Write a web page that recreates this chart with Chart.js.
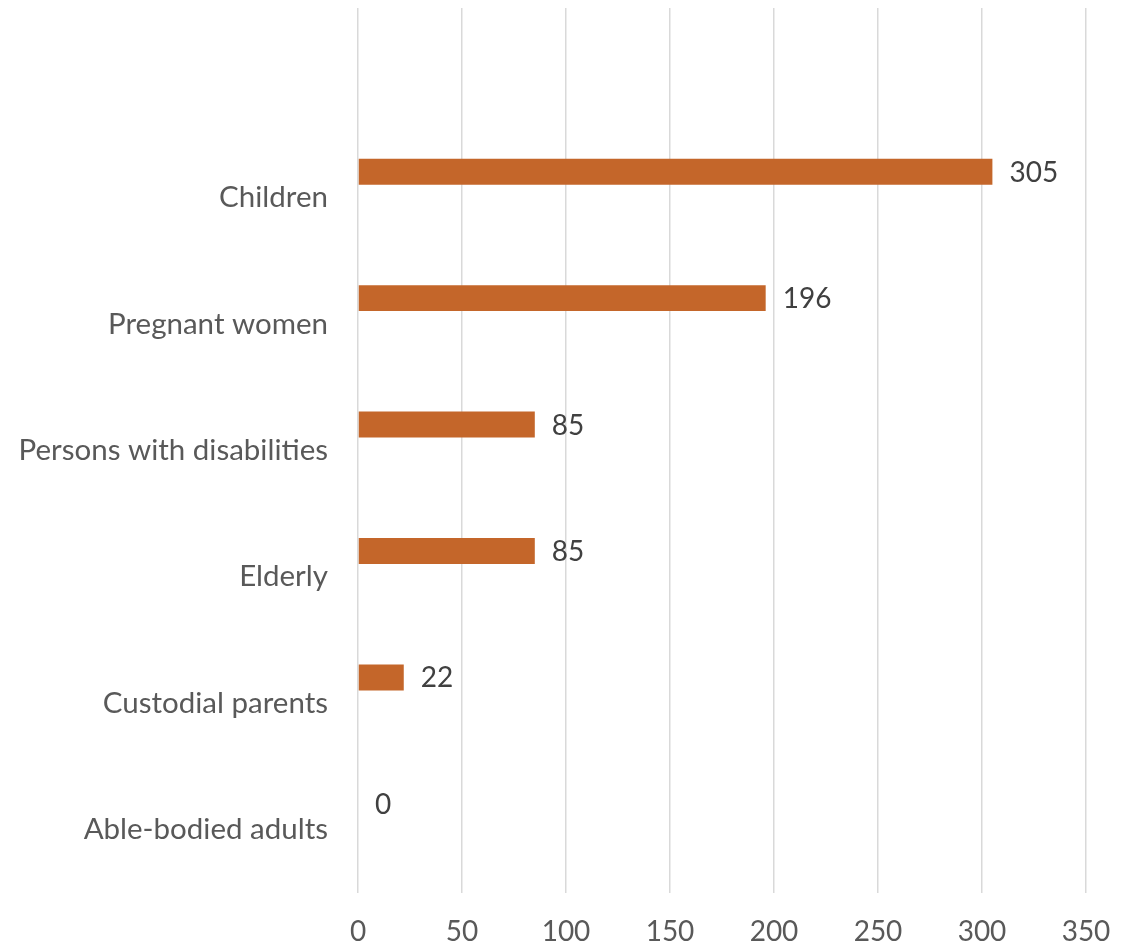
<!DOCTYPE html>
<html>
<head>
<meta charset="utf-8">
<script src="https://cdn.jsdelivr.net/npm/chart.js@4.4.1/dist/chart.umd.min.js"></script>
<style>
  html, body { margin: 0; padding: 0; background: #ffffff; }
  #wrap { width: 1125px; height: 951px; position: relative; }
</style>
</head>
<body>
<div id="wrap"><canvas id="c" width="1125" height="951"></canvas></div>
<script>
// Categories (the first, blank category is the empty band at the top of the reference)
const categories = ["", "Children", "Pregnant women", "Persons with disabilities", "Elderly", "Custodial parents", "Able-bodied adults"];
// Values for the drawn series
const seriesValues = [null, 305, 196, 85, 85, 22, 0];
// Second (empty) series that occupies the lower half of each band
const emptySeries = [null, null, null, null, null, null, null];
// X tick values
const xTicks = [0, 50, 100, 150, 200, 250, 300, 350];

const FONT = "Lato, 'Open Sans', sans-serif";

const noLigatures = {
  id: 'noLigatures',
  beforeInit(chart) { try { chart.ctx.letterSpacing = '0.2px'; } catch (e) {} }
};

const dataLabels = {
  id: 'dataLabels',
  afterDatasetsDraw(chart) {
    const ctx = chart.ctx;
    const meta = chart.getDatasetMeta(0);
    ctx.save();
    ctx.font = "28px " + FONT;
    ctx.fillStyle = "#404040";
    ctx.textAlign = "left";
    ctx.textBaseline = "middle";
    meta.data.forEach((el, i) => {
      const v = seriesValues[i];
      if (v === null || v === undefined) return;
      ctx.fillText(String(v), el.x + 17, el.y + 1);
    });
    ctx.restore();
  }
};

new Chart(document.getElementById('c'), {
  type: 'bar',
  data: {
    labels: categories,
    datasets: [
      {
        label: 'Count',
        data: seriesValues,
        backgroundColor: '#C4662A',
        borderWidth: 0,
        categoryPercentage: 0.82,
        barPercentage: 0.5
      },
      {
        label: '',
        data: emptySeries,
        backgroundColor: 'rgba(0,0,0,0)',
        categoryPercentage: 0.82,
        barPercentage: 0.5
      }
    ]
  },
  options: {
    indexAxis: 'y',
    responsive: false,
    animation: false,
    layout: { padding: { top: 8, right: 39, bottom: 0, left: 0 } },
    plugins: {
      legend: { display: false },
      tooltip: { enabled: false }
    },
    scales: {
      x: {
        min: 0,
        max: 350,
        afterBuildTicks(scale) { scale.ticks = xTicks.map(v => ({ value: v })); },
        afterFit(scale) {
          scale.height = 58;
          scale.paddingLeft = 0; scale.paddingRight = 0;
          scale.paddingTop = 0; scale.paddingBottom = 0;
        },
        border: { display: false },
        grid: { color: '#D9D9D9', lineWidth: 1.5, drawTicks: false },
        ticks: {
          color: '#595959',
          font: { family: FONT, size: 28 },
          padding: 22,
          maxRotation: 0
        }
      },
      y: {
        afterFit(scale) {
          scale.width = 358;
          scale.paddingLeft = 0; scale.paddingRight = 0;
          scale.paddingTop = 0; scale.paddingBottom = 0;
        },
        border: { display: false },
        grid: { display: false, drawTicks: false },
        ticks: {
          color: '#595959',
          font: { family: FONT, size: 29.5 },
          padding: 30,
          autoSkip: false
        }
      }
    }
  },
  plugins: [noLigatures, dataLabels]
});
</script>
</body>
</html>
